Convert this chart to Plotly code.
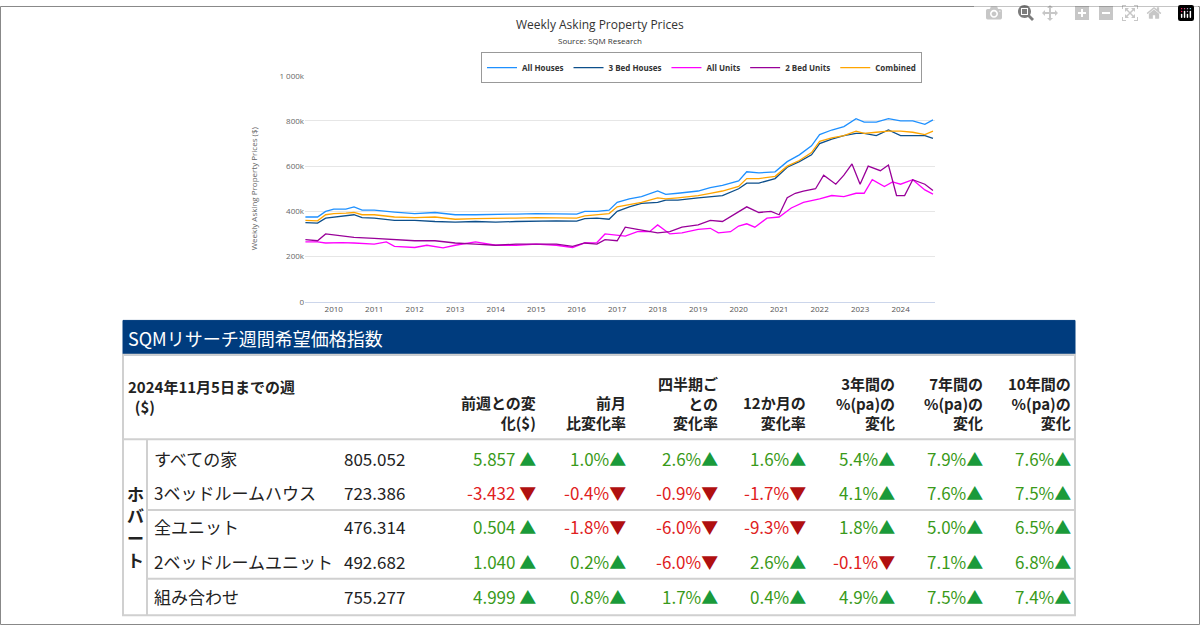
import plotly.graph_objects as go

W, H = 1200, 630
def px(x): return x / W
def py(y): return 1 - y / H

# ---- chart data (k$) ----
ah_x = [2009.3,2009.6,2009.8,2010.0,2010.3,2010.5,2010.7,2011.0,2011.5,2012.0,2012.5,2013.0,2013.5,2014.0,2014.5,2015.0,2015.5,2016.0,2016.2,2016.5,2016.8,2017.0,2017.3,2017.6,2018.0,2018.2,2018.5,2019.0,2019.3,2019.6,2020.0,2020.2,2020.5,2020.9,2021.2,2021.5,2021.8,2022.0,2022.3,2022.6,2022.9,2023.1,2023.4,2023.7,2024.0,2024.3,2024.6,2024.8]
all_houses = [375,375,400,410,410,420,405,405,397,390,395,385,385,385,388,390,388,388,400,400,405,440,455,465,490,475,480,490,505,515,535,575,570,575,620,650,690,740,760,775,810,795,795,810,800,800,785,805]
bed3_houses = [350,348,370,375,380,385,372,370,360,360,355,352,355,352,355,357,358,357,368,370,365,400,420,435,440,450,450,460,465,470,500,525,525,545,595,620,650,700,720,735,745,745,735,760,735,735,735,723]
combined = [360,358,385,390,392,395,385,385,375,372,375,365,368,368,370,372,372,370,380,385,390,420,430,440,460,455,460,470,480,490,510,545,545,555,600,625,660,710,725,735,755,745,750,755,755,750,740,755]
au_x = [2009.3,2009.6,2009.8,2010.2,2010.5,2011.0,2011.3,2011.5,2012.0,2012.3,2012.7,2013.0,2013.5,2014.0,2014.5,2015.0,2015.5,2015.9,2016.2,2016.5,2016.7,2017.0,2017.2,2017.5,2017.8,2018.0,2018.3,2018.6,2019.0,2019.3,2019.5,2019.8,2020.0,2020.2,2020.4,2020.7,2021.0,2021.3,2021.6,2022.0,2022.3,2022.6,2022.9,2023.1,2023.3,2023.6,2023.8,2024.0,2024.3,2024.6,2024.8]
all_units = [265,265,260,262,260,255,265,245,240,250,238,250,265,250,250,255,250,240,260,262,300,295,290,310,310,340,300,305,320,325,305,310,335,345,330,370,375,415,440,455,470,465,480,480,540,510,530,520,540,495,476]
bu_x = [2009.3,2009.6,2009.8,2010.0,2010.5,2011.0,2011.5,2012.0,2012.5,2013.0,2013.5,2014.0,2014.5,2015.0,2015.5,2015.9,2016.2,2016.5,2016.7,2017.0,2017.2,2017.5,2017.8,2018.0,2018.3,2018.6,2019.0,2019.3,2019.6,2020.0,2020.2,2020.5,2020.8,2021.0,2021.2,2021.4,2021.6,2021.9,2022.1,2022.4,2022.6,2022.8,2023.0,2023.2,2023.5,2023.7,2023.9,2024.1,2024.3,2024.6,2024.8]
bed2_units = [275,270,300,295,285,280,275,270,270,260,255,250,255,255,255,245,260,255,275,270,330,320,310,305,310,330,340,360,355,400,420,395,400,385,460,480,490,500,560,520,560,610,520,600,580,605,470,470,540,520,492]
years = list(range(2010, 2025))
ytick_vals = [0,200,400,600,800,1000]
ytick_text = ["0","200k","400k","600k","800k","1 000k"]

# ---- table data ----
title = "SQMリサーチ週間希望価格指数"
week_label = "2024年11月5日までの週<br>  ($)"
headers = ["前週との変<br>化($)", "前月<br>比変化率", "四半期ご<br>との<br>変化率", "12か月の<br>変化率",
           "3年間の<br>%(pa)の<br>変化", "7年間の<br>%(pa)の<br>変化", "10年間の<br>%(pa)の<br>変化"]
city = "ホ<br>バ<br>ー<br>ト"
row_names = ["すべての家", "3ベッドルームハウス", "全ユニット", "2ベッドルームユニット", "組み合わせ"]
row_values = ["805.052", "723.386", "476.314", "492.682", "755.277"]
changes = [
    ["5.857", "1.0%", "2.6%", "1.6%", "5.4%", "7.9%", "7.6%"],
    ["-3.432", "-0.4%", "-0.9%", "-1.7%", "4.1%", "7.6%", "7.5%"],
    ["0.504", "-1.8%", "-6.0%", "-9.3%", "1.8%", "5.0%", "6.5%"],
    ["1.040", "0.2%", "-6.0%", "2.6%", "-0.1%", "7.1%", "6.8%"],
    ["4.999", "0.8%", "1.7%", "0.4%", "4.9%", "7.5%", "7.4%"],
]

fig = go.Figure()
series = [("All Houses", ah_x, all_houses, "#1e90ff"), ("3 Bed Houses", ah_x, bed3_houses, "#0d4f8b"),
          ("All Units", au_x, all_units, "#ff00ff"), ("2 Bed Units", bu_x, bed2_units, "#990099"),
          ("Combined", ah_x, combined, "#ffa500")]
for name, xs, ys, c in series:
    fig.add_trace(go.Scatter(x=xs, y=ys, name="<b>" + name + "</b>", mode="lines", line=dict(color=c, width=1.3)))

fig.update_layout(
    width=W, height=H, margin=dict(l=0, r=0, t=0, b=0), paper_bgcolor="white", plot_bgcolor="white",
    font=dict(family="Open Sans", color="#333"),
    xaxis=dict(domain=[px(305), px(935)], range=[2009.29, 2024.85], tickvals=years, ticktext=[str(y) for y in years],
               showgrid=False, tickfont=dict(size=8, color="#555"), showline=True, linecolor="#ccd6eb", ticks=""),
    yaxis=dict(domain=[py(301), py(71)], range=[0, 1000], tickvals=ytick_vals, ticktext=ytick_text,
               gridcolor="#e6e6e6", tickfont=dict(size=8, color="#666"), zeroline=False,
               title=dict(text="Weekly Asking Property Prices ($)", font=dict(size=8, color="#666"), standoff=20)),
    legend=dict(orientation="h", x=px(922), xanchor="right", y=py(47), yanchor="top",
                bordercolor="#999", borderwidth=1, font=dict(size=8, color="#333", family="Open Sans"),
                itemwidth=30, tracegroupgap=0),
    showlegend=True,
)

ann = []
shapes = []
ann.append(dict(text="Weekly Asking Property Prices", x=0.5, y=py(19), xref="paper", yref="paper", yanchor="middle",
                showarrow=False, font=dict(size=12, color="#333")))
ann.append(dict(text="Source: SQM Research", x=0.5, y=py(35), xref="paper", yref="paper", yanchor="middle",
                showarrow=False, font=dict(size=8, color="#333")))

def rect(x0, y0, x1, y1, fill=None, line="#cfcfcf", w=1):
    shapes.append(dict(type="rect", xref="paper", yref="paper", x0=px(x0), x1=px(x1), y0=py(y1), y1=py(y0),
                       fillcolor=fill, line=dict(color=line, width=w) if w else dict(width=0), layer="below"))
def hline(x0, x1, y, color="#d0d0d0", w=2):
    shapes.append(dict(type="line", xref="paper", yref="paper", x0=px(x0), x1=px(x1), y0=py(y), y1=py(y),
                       line=dict(color=color, width=w)))
def vline(x, y0, y1, color="#d0d0d0", w=2):
    shapes.append(dict(type="line", xref="paper", yref="paper", x0=px(x), x1=px(x), y0=py(y0), y1=py(y1),
                       line=dict(color=color, width=w)))
def text(t, x, y, anchor="left", size=17, color="#222", bold=False, va="middle"):
    if bold: t = "<b>" + t + "</b>"
    ann.append(dict(text=t, x=px(x), y=py(y), xref="paper", yref="paper", xanchor=anchor, yanchor=va,
                    showarrow=False, font=dict(size=size, color=color, family="Noto Sans CJK JP"), align=anchor))

rect(123, 320, 1075, 355, fill="#003c7e", line="#003c7e")
text(title, 126, 338, size=18, color="white")
rect(123, 355, 1075, 620, line="#d0d0d0", w=2)
hline(123, 1075, 441)
hline(147, 1075, 513)
hline(147, 1075, 583)
vline(147, 441, 620)
text(week_label, 126, 397, size=15, bold=True)
col_r = [538, 628, 720, 808, 897, 985, 1073]
for h, xr in zip(headers, col_r):
    text(h, xr, 437, anchor="right", size=15, bold=True, va="bottom")
text(city, 135, 530, anchor="center", size=17, bold=True)
row_y = [461, 495, 530, 565, 601]
GREEN, RED, UP, DOWN = "#3a9a1a", "#e02020", "#1a9a3a", "#b01010"
for i, yv in enumerate(row_y):
    text(row_names[i], 152, yv)
    text(row_values[i], 342, yv)
    for j, v in enumerate(changes[i]):
        neg = v.startswith("-")
        arrow = f"<span style='color:{DOWN if neg else UP}'>{'▼' if neg else '▲'}</span>"
        sep = " " if j == 0 else ""
        text(v + sep + arrow, col_r[j], yv, anchor="right", color=RED if neg else GREEN)
rect(0.5, 0.5, 1199.5, 629.5, line="#888", w=1)

fig.update_layout(annotations=ann, shapes=shapes)
fig.write_html("out.html", post_script="document.body.style.margin='0';document.body.style.overflow='hidden';")
